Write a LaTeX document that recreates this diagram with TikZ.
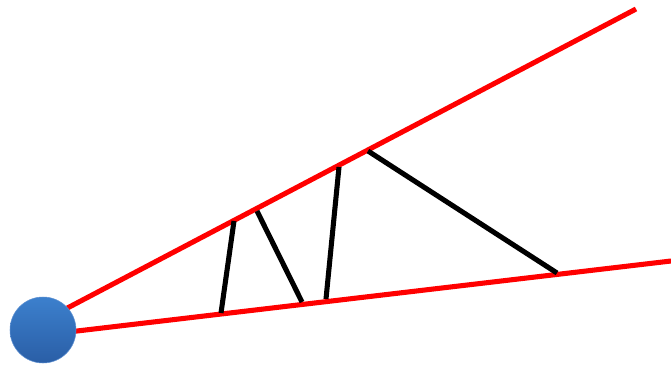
\documentclass[tikz,border=0pt]{standalone}
\begin{document}
\begin{tikzpicture}[x=0.75pt, y=-0.75pt,
  ray/.style={red, line width=3.8pt},
  strut/.style={black, line width=3.8pt},
  ball/.style={circle, minimum size=49.5pt, inner sep=0pt,
               top color={rgb,255:red,60;green,128;blue,205},
               bottom color={rgb,255:red,42;green,94;blue,166},
               draw={rgb,255:red,95;green,145;blue,210}, thin}
]
  \useasboundingbox (0,0) rectangle (671,368);

  % Rays
  \coordinate (s1) at (56,314);
  \coordinate (e1) at (636,9);
  \coordinate (s2) at (43,335);
  \coordinate (e2) at (671,261);
  \draw[ray] (s1) -- (e1);
  \draw[ray] (s2) -- (e2);

  % Struts between the rays
  \coordinate (u1) at (234,221);
  \coordinate (u2) at (257,211);
  \coordinate (u3) at (339,167);
  \coordinate (u4) at (368,151);
  \coordinate (l1) at (221,313);
  \coordinate (l2) at (302,302);
  \coordinate (l3) at (326,299);
  \coordinate (l4) at (557,273);
  \foreach \i in {1,2,3,4} {
    \draw[strut] (u\i) -- (l\i);
  }

  % Source
  \node[ball] (src) at (43,330) {};
\end{tikzpicture}
\end{document}
